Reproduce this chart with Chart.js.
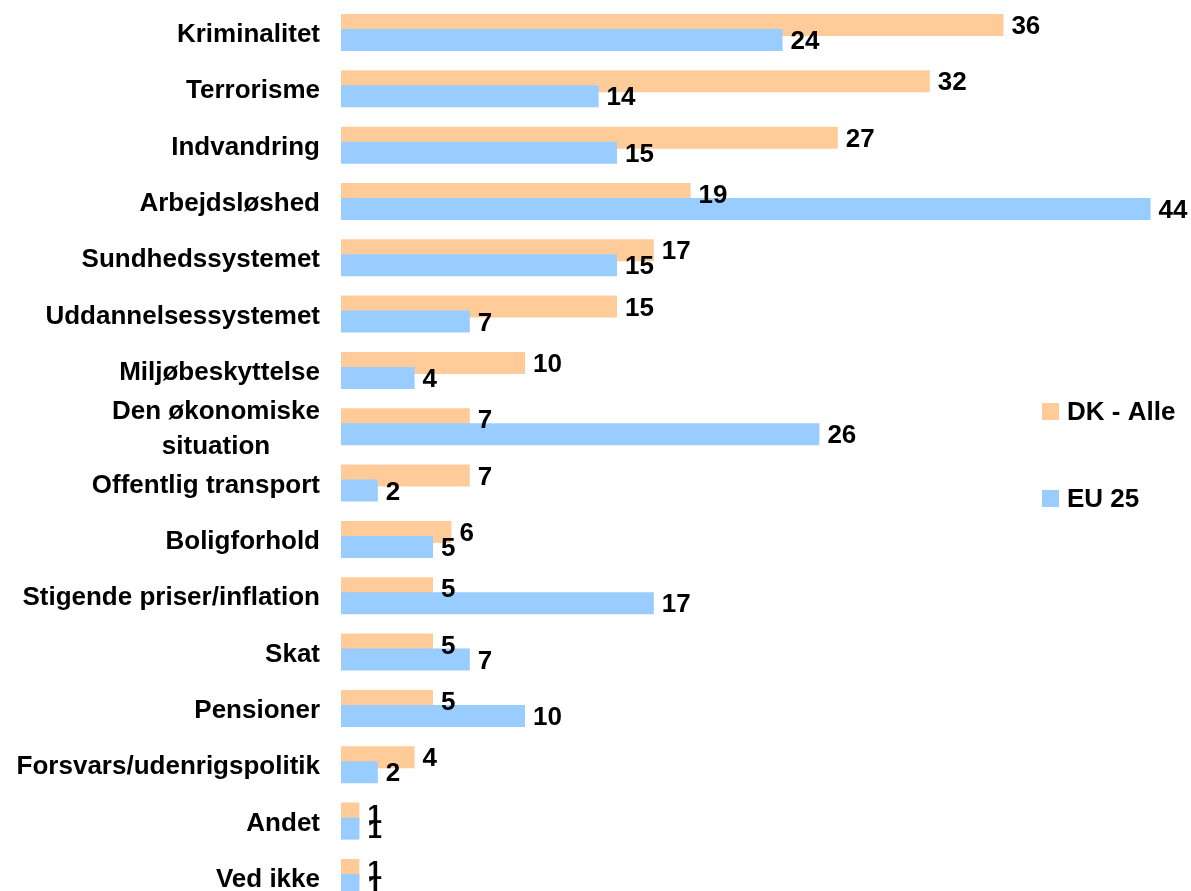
<!DOCTYPE html>
<html>
<head>
<meta charset="utf-8">
<script src="https://cdn.jsdelivr.net/npm/chart.js@4/dist/chart.umd.min.js"></script>
<style>
  html, body { margin: 0; padding: 0; background: #fff; overflow: hidden; }
  #wrap { position: absolute; left: 0; top: 0; width: 1191px; height: 910px; }
</style>
</head>
<body>
<div id="wrap"><canvas id="issuesChart"></canvas></div>
<script>
const categories = [
    'Kriminalitet', 'Terrorisme', 'Indvandring', 'Arbejdsløshed', 'Sundhedssystemet',
    'Uddannelsessystemet', 'Miljøbeskyttelse', ['Den økonomiske', 'situation'],
    'Offentlig transport', 'Boligforhold', 'Stigende priser/inflation', 'Skat',
    'Pensioner', 'Forsvars/udenrigspolitik', 'Andet', 'Ved ikke'
];
const dkValues = [36, 32, 27, 19, 17, 15, 10, 7, 7, 6, 5, 5, 5, 4, 1, 1];
const euValues = [24, 14, 15, 44, 15, 7, 4, 26, 2, 5, 17, 7, 10, 2, 1, 1];
const seriesNames = ['DK - Alle', 'EU 25'];
const seriesColors = ['#FFCC99', '#99CCFF'];

const FONT = "bold 26px 'Liberation Sans', Arial, sans-serif";

// EU bars sit on top of the DK bars where they overlap
const blueOnTop = {
    id: 'blueOnTop',
    beforeDatasetDraw(chart, args) {
        if (args.index === 1) return false;
    },
    afterDatasetsDraw(chart) {
        chart.getDatasetMeta(1).controller.draw();
    }
};

const textPlugin = {
    id: 'textPlugin',
    afterDatasetsDraw(chart) {
        const ctx = chart.ctx;
        ctx.save();
        ctx.font = FONT;
        ctx.fillStyle = '#000';
        ctx.textBaseline = 'alphabetic';

        // value labels
        ctx.textAlign = 'left';
        chart.data.datasets.forEach((ds, i) => {
            chart.getDatasetMeta(i).data.forEach((bar, j) => {
                ctx.fillText(String(ds.data[j]), bar.x + 8, bar.y + 9);
            });
        });

        // category labels, block right aligned, lines centred
        const yScale = chart.scales.y;
        categories.forEach((cat, i) => {
            const lines = Array.isArray(cat) ? cat : [cat];
            const y = yScale.getPixelForValue(i);
            const widest = Math.max(...lines.map(l => ctx.measureText(l).width));
            const right = 320;
            ctx.textAlign = 'center';
            const lh = 35;
            const y0 = y + 9.5 - (lines.length - 1) * lh / 2;
            lines.forEach((l, k) => {
                ctx.fillText(l, right - widest / 2, y0 + k * lh);
            });
        });

        // legend
        ctx.textAlign = 'left';
        const legendY = [403, 490];
        seriesNames.forEach((name, i) => {
            ctx.fillStyle = seriesColors[i];
            ctx.fillRect(1042, legendY[i], 17, 17);
            ctx.fillStyle = '#000';
            ctx.fillText(name, 1067, legendY[i] + 17);
        });
        ctx.restore();
    }
};

chartIt();
function chartIt() {
    const ctx = document.getElementById('issuesChart').getContext('2d');
    const myChart = new Chart(ctx, {
        type: 'bar',
        data: {
            labels: categories,
            datasets: [{
                label: seriesNames[0],
                data: dkValues,
                backgroundColor: seriesColors[0],
                borderWidth: 0
            }, {
                label: seriesNames[1],
                data: euValues,
                backgroundColor: seriesColors[1],
                borderWidth: 0
            }]
        },
        options: {
            indexAxis: 'y',
            responsive: true,
            maintainAspectRatio: false,
            animation: false,
            categoryPercentage: 30 / 56.33,
            barPercentage: 22 / 15,
            layout: { padding: { left: 341, right: 3.6, top: 4.3, bottom: 4.4 } },
            scales: {
                x: { display: false, min: 0, max: 46 },
                y: { display: false }
            },
            plugins: {
                legend: { display: false },
                tooltip: { enabled: false }
            }
        },
        plugins: [blueOnTop, textPlugin]
    });
}
</script>
</body>
</html>
